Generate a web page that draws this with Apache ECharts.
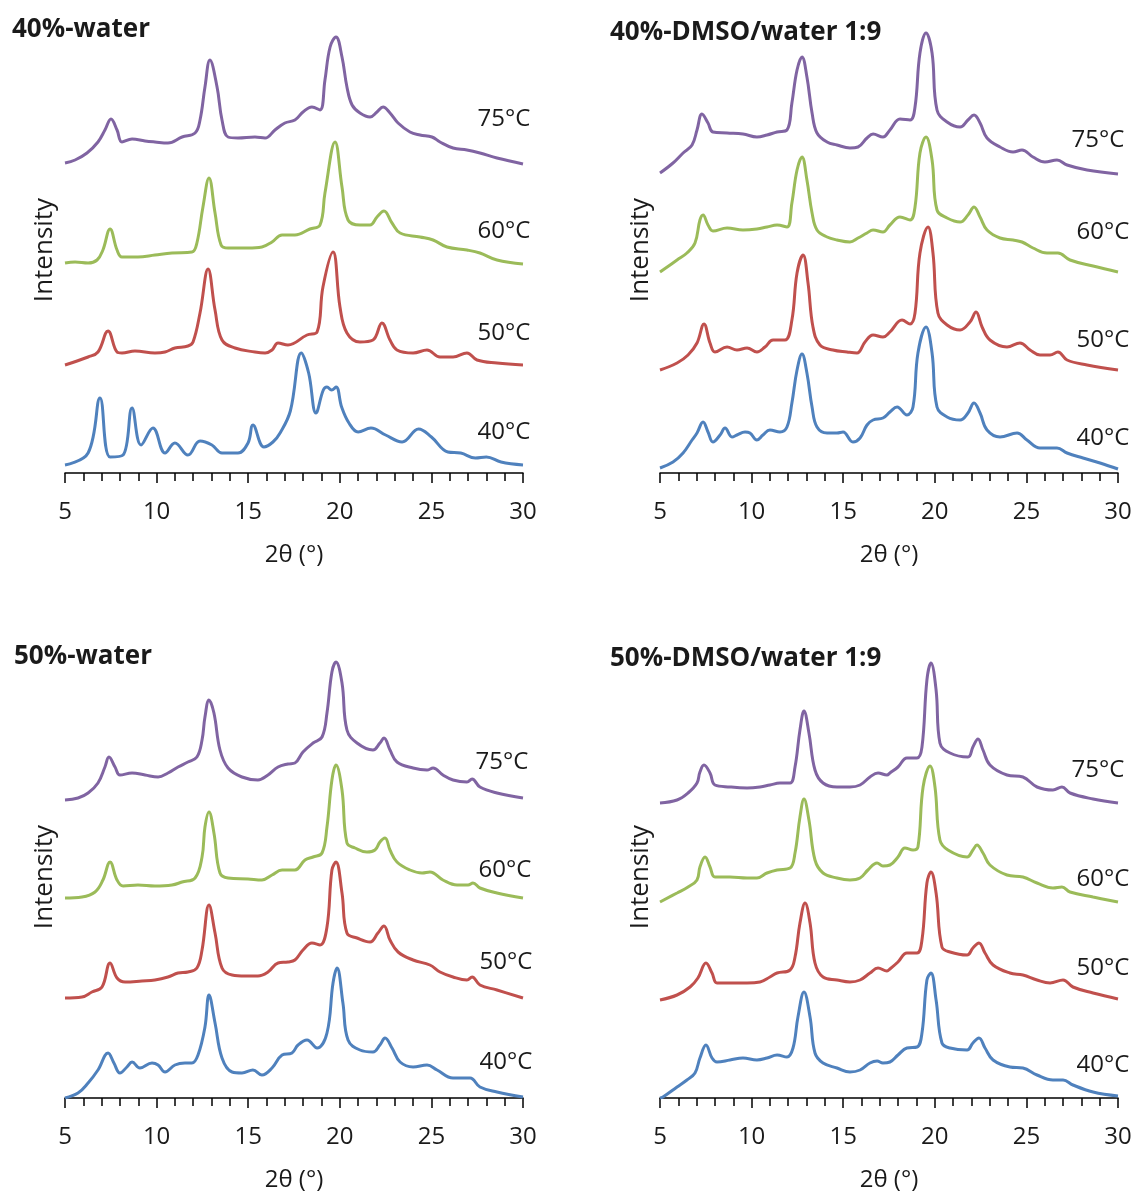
<!DOCTYPE html>
<html>
<head>
<meta charset="utf-8">
<script src="https://cdn.jsdelivr.net/npm/echarts@6/dist/echarts.min.js"></script>
<style>
html,body{margin:0;padding:0;background:#fff;}
#chart{width:1136px;height:1197px;}
</style>
</head>
<body>
<div id="chart"></div>
<script>
// ---------- categories / labels ----------
var temperatures = ['40°C', '50°C', '60°C', '75°C'];
var panelTitles = ['40%-water', '40%-DMSO/water 1:9', '50%-water', '50%-DMSO/water 1:9'];
var xTicks = [5, 10, 15, 20, 25, 30];
var xName = '2θ (°)';
var yName = 'Intensity';

// ---------- 40%-water ----------
var w40_T40 = [[5,8],[6.26,20],[6.91,75],[7.46,16],[8.17,18],[8.66,65],[9.15,28],[9.8,45],[10.46,20],[11.0,30],[11.71,18],[12.37,32],[13.02,28],[13.57,20],[14.44,20],[14.99,30],[15.26,48],[15.86,26],[16.35,31],[16.74,40],[17.3,62],[17.9,120],[18.3,100],[18.7,60],[19.1,83],[19.3,86],[19.55,83],[19.8,86],[20.1,66],[20.5,50],[21.0,41],[21.7,45],[22.5,38],[23.4,31],[24.3,44],[25.0,36],[25.9,21],[26.6,20],[27.4,15],[28.0,16],[28.8,11],[30,8]];
var w40_T50 = [[5,108],[6.26,116],[6.8,121],[7.35,142],[7.84,121],[8.11,120],[8.82,122],[9.91,120],[10.46,121],[11.0,125],[11.71,127],[11.99,131],[12.37,160],[12.81,204],[13.19,163],[13.57,133],[14.28,125],[15.37,121],[15.92,120],[16.3,123],[16.63,130],[17.17,128],[18.21,138],[18.76,141],[19.08,186],[19.63,221],[20.01,166],[20.39,140],[21.1,131],[21.81,133],[22.3,150],[22.74,133],[23.12,123],[24.0,120],[24.76,123],[25.47,116],[26.18,116],[26.94,120],[27.49,113],[28.58,110],[30,108]];
var w40_T60 = [[5,210],[5.55,211],[6.26,210],[6.75,213],[7.07,223],[7.46,244],[7.84,223],[8.11,216],[8.98,216],[9.91,218],[10.84,220],[11.93,221],[12.2,230],[12.53,266],[12.86,295],[13.19,260],[13.52,228],[13.9,225],[14.99,225],[15.75,226],[16.3,231],[16.85,238],[17.55,238],[18.37,244],[18.92,248],[19.19,280],[19.74,331],[20.12,286],[20.45,253],[21.1,248],[21.65,248],[22.03,256],[22.41,262],[22.85,250],[23.29,240],[24.38,236],[25.09,233],[25.85,226],[26.94,223],[27.65,220],[28.58,213],[30,209]];
var w40_T75 = [[5,310],[5.55,313],[6.2,320],[6.8,331],[7.18,343],[7.51,354],[7.84,343],[8.11,331],[8.66,334],[9.37,332],[9.91,331],[10.62,330],[11.39,336],[12.1,340],[12.37,353],[12.64,386],[12.91,413],[13.3,386],[13.57,353],[13.9,336],[14.44,335],[15.37,336],[15.92,335],[16.46,343],[17.0,350],[17.55,353],[17.99,361],[18.48,366],[18.92,363],[19.19,393],[19.47,426],[19.79,436],[20.12,416],[20.39,386],[20.67,368],[21.1,360],[21.65,356],[22.03,361],[22.36,366],[22.74,360],[23.18,350],[23.83,341],[24.38,338],[25.03,336],[25.47,331],[26.18,325],[26.94,323],[27.65,320],[28.58,315],[30,309]];

// ---------- 40%-DMSO/water 1:9 ----------
var d40_T40 = [[5,5],[5.71,11],[6.26,20],[6.75,33],[7.02,40],[7.35,51],[7.62,41],[7.89,31],[8.28,38],[8.55,45],[8.93,36],[9.2,38],[9.64,41],[9.91,40],[10.29,33],[10.62,38],[11.0,43],[11.55,41],[11.93,46],[12.2,70],[12.48,103],[12.75,119],[13.02,100],[13.3,66],[13.57,46],[14.12,40],[14.66,40],[14.99,41],[15.53,31],[15.92,35],[16.3,48],[16.63,53],[17.17,55],[17.55,61],[17.94,66],[18.48,58],[18.81,66],[19.08,120],[19.52,146],[19.85,120],[20.12,66],[20.67,56],[21.38,53],[21.81,60],[22.14,70],[22.47,60],[22.85,43],[23.56,36],[24.49,40],[25.03,33],[25.74,25],[26.67,25],[27.22,20],[28.09,15],[29.02,10],[30,4]];
var d40_T50 = [[5,103],[5.93,110],[6.53,118],[7.02,130],[7.4,149],[7.73,130],[8.0,121],[8.66,126],[9.2,123],[9.75,125],[10.29,121],[10.73,126],[11.17,133],[11.82,133],[12.2,153],[12.48,200],[12.81,218],[13.08,190],[13.35,146],[13.73,128],[14.44,123],[15.21,121],[15.75,120],[16.19,131],[16.63,138],[17.17,136],[17.55,141],[18.21,153],[18.65,149],[18.92,160],[19.19,220],[19.63,246],[19.9,220],[20.17,160],[20.67,148],[21.38,143],[21.92,151],[22.25,161],[22.58,146],[23.01,133],[23.94,126],[24.65,130],[25.2,123],[25.74,118],[26.29,118],[26.72,121],[27.22,113],[28.31,108],[30,103]];
var d40_T60 = [[5,201],[5.93,213],[6.47,220],[6.91,230],[7.18,253],[7.35,258],[7.62,248],[7.89,242],[8.66,245],[9.53,243],[10.29,244],[10.84,246],[11.39,248],[11.93,246],[12.2,270],[12.48,303],[12.75,316],[13.02,293],[13.3,260],[13.57,243],[14.12,236],[14.66,233],[15.37,231],[15.81,235],[16.3,240],[16.63,243],[17.17,241],[17.55,248],[18.1,256],[18.65,253],[18.92,266],[19.19,320],[19.52,336],[19.85,313],[20.12,263],[20.67,255],[21.38,251],[21.81,258],[22.14,266],[22.47,256],[22.85,243],[23.56,235],[24.27,233],[24.76,231],[25.36,225],[26.12,220],[26.72,220],[27.38,213],[28.64,207],[30,201]];
var d40_T75 = [[5,300],[5.71,310],[6.26,320],[6.75,328],[7.02,343],[7.29,359],[7.62,350],[7.89,341],[8.66,340],[9.53,339],[10.29,336],[10.84,338],[11.39,341],[11.93,343],[12.2,370],[12.48,403],[12.75,416],[13.02,396],[13.3,360],[13.57,340],[14.12,331],[14.66,328],[15.37,325],[15.81,326],[16.3,335],[16.63,339],[17.17,336],[17.55,343],[18.1,354],[18.65,353],[18.92,366],[19.19,420],[19.52,440],[19.85,420],[20.12,363],[20.67,351],[21.38,346],[21.81,353],[22.14,358],[22.47,350],[22.85,335],[23.56,326],[24.27,321],[24.76,323],[25.36,316],[26.01,311],[26.67,313],[27.22,308],[28.31,303],[30,299]];

// ---------- 50%-water ----------
var w50_T40 = [[5,0],[5.71,5],[6.26,15],[6.8,28],[7.35,45],[7.67,35],[8.0,25],[8.38,31],[8.66,36],[9.09,30],[9.75,35],[10.08,33],[10.46,26],[11.0,33],[11.55,35],[11.93,35],[12.26,43],[12.64,71],[12.86,103],[13.19,75],[13.57,40],[14.12,26],[14.66,25],[15.26,28],[15.75,23],[16.3,30],[16.85,43],[17.39,45],[17.72,53],[18.21,58],[18.76,50],[19.3,65],[19.63,115],[19.85,130],[20.17,95],[20.45,58],[21.1,48],[21.81,46],[22.19,53],[22.47,60],[22.85,50],[23.29,36],[24.0,31],[24.76,33],[25.31,28],[26.18,20],[27.11,20],[27.65,11],[28.58,6],[30,1]];
var w50_T50 = [[5,100],[5.93,101],[6.47,106],[7.02,111],[7.46,135],[7.84,120],[8.28,116],[9.2,117],[9.91,118],[10.62,121],[11.17,125],[11.71,126],[12.2,130],[12.48,148],[12.86,193],[13.19,165],[13.57,130],[14.12,123],[14.83,122],[15.53,122],[16.08,126],[16.63,135],[17.17,136],[17.55,138],[17.99,148],[18.48,155],[18.92,153],[19.3,171],[19.57,228],[19.79,236],[20.12,205],[20.39,165],[20.94,160],[21.65,156],[22.08,165],[22.41,172],[22.74,158],[23.18,146],[24.0,138],[24.92,133],[25.47,126],[26.18,121],[26.94,118],[27.22,121],[27.65,113],[28.58,108],[30,100]];
var w50_T60 = [[5,200],[5.93,201],[6.64,206],[7.07,218],[7.46,236],[7.84,218],[8.17,212],[8.98,213],[9.91,212],[10.84,213],[11.39,216],[12.1,220],[12.48,241],[12.64,271],[12.86,286],[13.13,265],[13.46,225],[13.9,220],[14.99,219],[15.75,218],[16.3,223],[16.85,228],[17.55,228],[18.1,238],[18.54,241],[19.03,245],[19.3,271],[19.57,318],[19.79,333],[20.12,308],[20.39,255],[20.83,250],[21.48,246],[21.92,248],[22.19,256],[22.47,260],[22.74,248],[23.12,236],[23.83,228],[24.49,225],[24.92,226],[25.63,218],[26.4,213],[27.0,213],[27.27,215],[27.65,210],[28.58,205],[30,200]];
var w50_T75 = [[5,298],[5.71,300],[6.26,305],[6.8,315],[7.18,331],[7.4,341],[7.73,331],[8.0,323],[8.66,325],[9.37,323],[10.08,321],[10.62,325],[11.17,331],[11.71,336],[12.2,341],[12.48,358],[12.64,381],[12.86,398],[13.13,385],[13.46,348],[13.9,330],[14.66,321],[15.53,318],[16.08,323],[16.63,331],[17.17,334],[17.55,335],[17.99,346],[18.54,355],[19.03,361],[19.3,385],[19.57,426],[19.79,436],[20.12,415],[20.39,368],[20.94,355],[21.81,348],[22.19,355],[22.41,360],[22.74,348],[23.12,336],[24.0,330],[24.76,328],[25.09,330],[25.63,323],[26.18,318],[26.94,316],[27.22,319],[27.65,311],[28.58,305],[30,300]];

// ---------- 50%-DMSO/water 1:9 ----------
var d50_T40 = [[5,0],[5.16,1],[5.93,11],[6.47,18],[6.91,25],[7.18,40],[7.51,53],[7.84,40],[8.11,36],[8.82,38],[9.53,40],[10.29,38],[10.84,40],[11.39,43],[11.93,41],[12.26,50],[12.53,81],[12.86,106],[13.19,81],[13.46,45],[13.9,35],[14.66,30],[15.37,26],[15.92,28],[16.46,35],[16.85,37],[17.17,35],[17.55,36],[17.99,43],[18.48,50],[19.03,51],[19.3,65],[19.57,118],[19.79,125],[20.07,98],[20.39,55],[20.83,50],[21.76,48],[22.08,55],[22.41,60],[22.74,50],[23.18,38],[24.1,31],[24.81,30],[25.58,23],[26.45,18],[27.0,18],[27.54,13],[28.64,6],[30,2]];
var d50_T50 = [[5,98],[5.93,103],[6.64,111],[7.07,120],[7.51,135],[7.84,125],[8.11,115],[8.82,115],[9.75,115],[10.46,116],[11.0,121],[11.39,125],[12.1,128],[12.37,141],[12.64,175],[12.92,195],[13.19,175],[13.46,135],[13.9,121],[14.66,118],[15.37,116],[15.92,118],[16.46,125],[16.9,130],[17.39,127],[17.55,129],[17.99,136],[18.48,145],[19.03,145],[19.3,158],[19.57,215],[19.79,226],[20.07,205],[20.39,151],[20.83,146],[21.76,143],[22.08,150],[22.41,155],[22.74,145],[23.18,133],[24.1,125],[24.81,123],[25.58,118],[26.29,115],[27.0,118],[27.54,111],[28.64,105],[30,99]];
var d50_T60 = [[5,196],[5.93,205],[6.53,211],[7.02,218],[7.18,231],[7.46,241],[7.73,231],[8.0,221],[8.82,221],[9.75,220],[10.29,220],[10.84,225],[11.39,228],[12.1,230],[12.37,245],[12.64,281],[12.86,299],[13.13,278],[13.46,238],[13.9,225],[14.66,220],[15.37,218],[15.92,220],[16.35,228],[16.85,235],[17.17,232],[17.55,233],[17.99,241],[18.37,250],[18.81,248],[19.08,251],[19.36,311],[19.74,332],[20.01,311],[20.28,258],[20.72,248],[21.76,241],[22.08,248],[22.3,253],[22.63,245],[23.01,233],[23.94,223],[24.81,221],[25.58,215],[26.45,210],[26.94,211],[27.38,206],[28.64,201],[30,196]];
var d50_T75 = [[5,295],[5.93,298],[6.53,305],[7.02,315],[7.18,326],[7.4,333],[7.73,325],[8.0,313],[8.82,311],[9.75,310],[10.46,311],[11.0,313],[11.55,315],[12.1,315],[12.37,331],[12.64,368],[12.86,387],[13.13,365],[13.46,328],[13.9,315],[14.66,311],[15.37,311],[15.92,313],[16.46,321],[16.9,325],[17.39,323],[17.55,325],[17.99,331],[18.48,340],[19.03,340],[19.3,351],[19.57,418],[19.79,435],[20.07,408],[20.28,355],[20.83,345],[21.81,341],[22.08,351],[22.36,359],[22.63,348],[23.01,333],[23.94,323],[24.81,321],[25.58,311],[26.45,308],[26.94,311],[27.38,305],[28.64,299],[30,295]];

// ---------- assemble ----------
var panelData = [
  [w40_T40, w40_T50, w40_T60, w40_T75],
  [d40_T40, d40_T50, d40_T60, d40_T75],
  [w50_T40, w50_T50, w50_T60, w50_T75],
  [d50_T40, d50_T50, d50_T60, d50_T75]
];
var colors = ['#4F81BD', '#C0504D', '#9BBB59', '#8064A2'];
var FONT = '"Open Sans", "Noto Sans", sans-serif';
var TXT = '#1a1a1a';

var layout = [
  {left: 65, top: 23, title: [12, 30], yl: [45, 250],
   tl: [[504,432],[504,333],[504,231],[504,119]]},
  {left: 660, top: 23, title: [610, 33], yl: [641, 250],
   tl: [[1103,438],[1103,340],[1103,232],[1098,140]]},
  {left: 65, top: 648, title: [14, 657], yl: [45, 877],
   tl: [[506,1062],[506,962],[505,870],[502,762]]},
  {left: 660, top: 648, title: [610, 659], yl: [641, 877],
   tl: [[1103,1065],[1103,968],[1103,879],[1098,770]]}
];

var grids = [], xAxes = [], yAxes = [], series = [], graphics = [];
layout.forEach(function (L, p) {
  grids.push({left: L.left, top: L.top, width: 458, height: 450});
  xAxes.push({
    type: 'value', gridIndex: p, min: xTicks[0], max: xTicks[xTicks.length - 1], interval: 5,
    name: xName, nameLocation: 'middle', nameGap: 70,
    nameTextStyle: {fontFamily: FONT, fontSize: 24, color: TXT},
    axisLine: {show: true, onZero: false, lineStyle: {color: '#000', width: 1.5}},
    axisTick: {show: true, inside: false, length: 10, lineStyle: {color: '#000', width: 1.5}},
    minorTick: {show: true, splitNumber: 5, length: 8, lineStyle: {color: '#000', width: 1.5}},
    axisLabel: {fontFamily: FONT, fontSize: 24, color: TXT, margin: 27},
    splitLine: {show: false}
  });
  yAxes.push({type: 'value', gridIndex: p, min: 0, max: 450, show: false});
  panelData[p].forEach(function (d, k) {
    series.push({
      type: 'line', name: temperatures[k], xAxisIndex: p, yAxisIndex: p,
      data: d, showSymbol: false, smooth: 0.4,
      lineStyle: {color: colors[k], width: 3}, itemStyle: {color: colors[k]},
      silent: true, animation: false
    });
    graphics.push({
      type: 'text', x: L.tl[k][0], y: L.tl[k][1],
      style: {text: temperatures[k], font: '24px ' + FONT, fill: TXT, align: 'center', verticalAlign: 'middle'}
    });
  });
  graphics.push({
    type: 'text', x: L.title[0], y: L.title[1],
    style: {text: panelTitles[p], font: 'bold 26px ' + FONT, fill: TXT, align: 'left', verticalAlign: 'middle'}
  });
  graphics.push({
    type: 'text', x: L.yl[0], y: L.yl[1], rotation: Math.PI / 2,
    style: {text: yName, font: '26px ' + FONT, fill: TXT, align: 'center', verticalAlign: 'middle'}
  });
});

var chart = echarts.init(document.getElementById('chart'), null, {renderer: 'canvas'});
chart.setOption({
  animation: false,
  backgroundColor: '#ffffff',
  grid: grids, xAxis: xAxes, yAxis: yAxes, series: series, graphic: graphics
});
</script>
</body>
</html>
